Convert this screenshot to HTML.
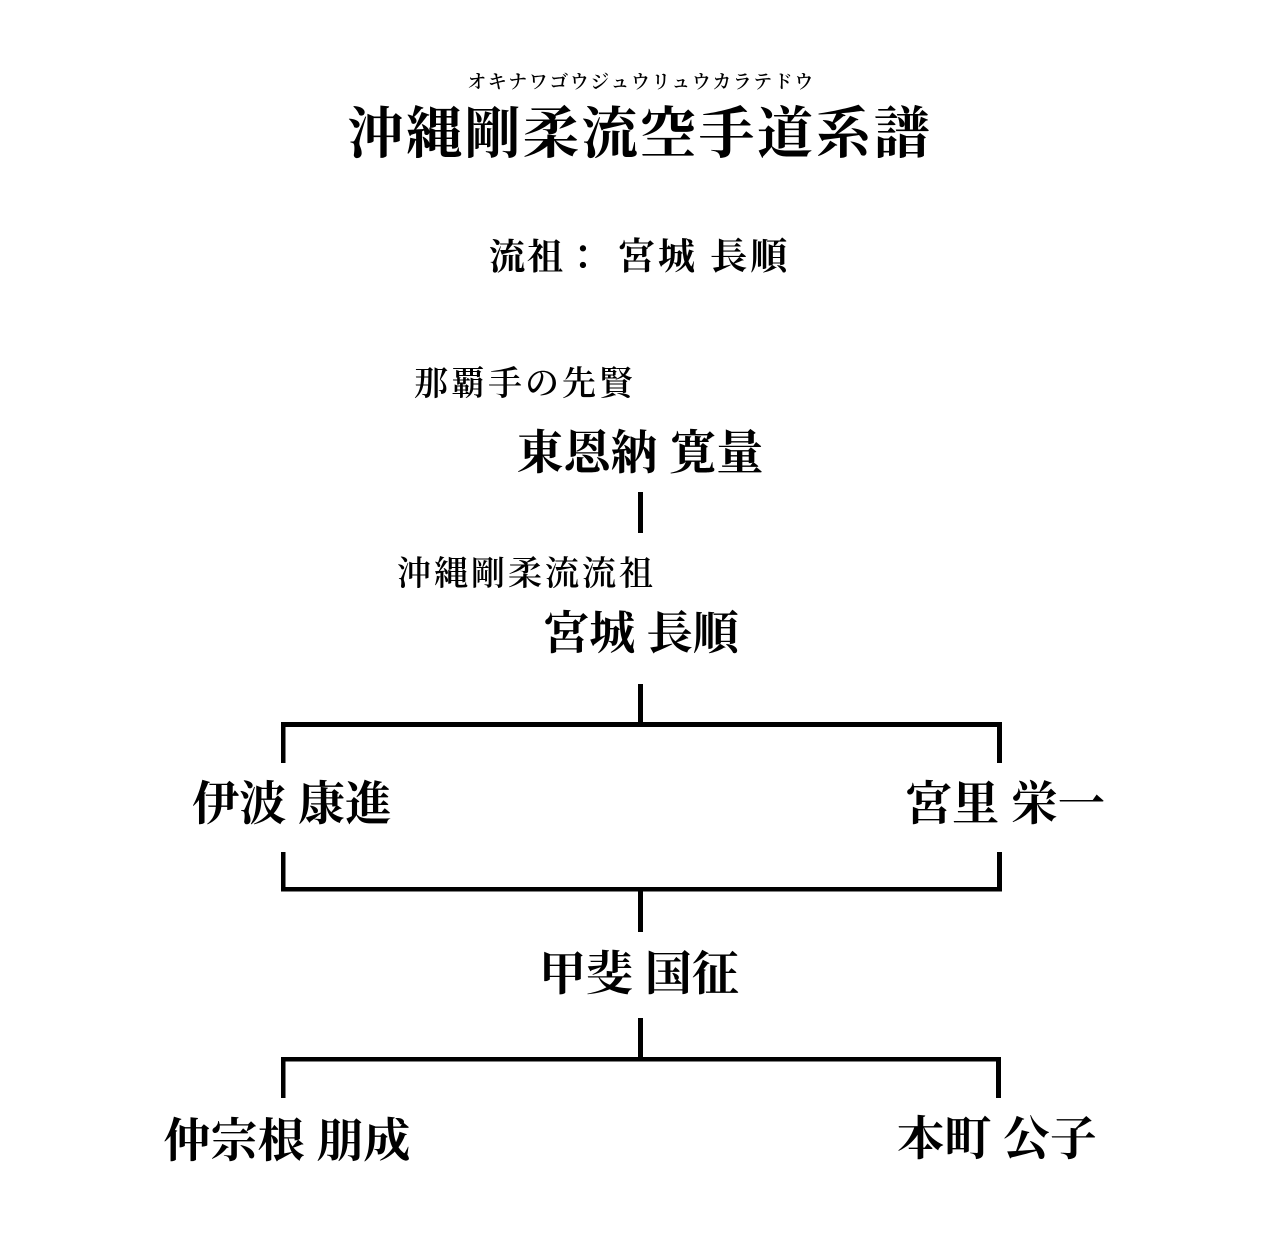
<!DOCTYPE html>
<html lang="ja">
<head>
<meta charset="utf-8">
<style>
  html,body{margin:0;padding:0;background:#fff;}
  body{width:1280px;height:1250px;overflow:hidden;}
  svg{display:block;}
  text{font-family:"Liberation Serif","Noto Serif CJK SC","Noto Serif CJK JP",serif;fill:#000;}
</style>
</head>
<body>
<svg width="1280" height="1250" viewBox="0 0 1280 1250" xmlns="http://www.w3.org/2000/svg">
  <rect x="0" y="0" width="1280" height="1250" fill="#fff"/>

  <!-- Header -->
  <text x="641" y="88" font-size="19" letter-spacing="1.5" text-anchor="middle" font-weight="600">オキナワゴウジュウリュウカラテドウ</text>
  <text x="640" y="153" font-size="56" letter-spacing="2.5" text-anchor="middle" font-weight="700">沖縄剛柔流空手道系譜</text>
  <text x="489" y="269" font-size="36" letter-spacing="2" font-weight="700">流祖：</text>
  <text x="618" y="269" font-size="37" letter-spacing="3" font-weight="700">宮城 長順</text>

  <!-- 東恩納 寛量 -->
  <text x="414" y="395" font-size="34" letter-spacing="3" font-weight="600">那覇手の先賢</text>
  <text x="640" y="469" font-size="47" text-anchor="middle" font-weight="700">東恩納 寛量</text>

  <rect x="638" y="492" width="5" height="41" fill="#000"/>

  <!-- 宮城 長順 -->
  <text x="397" y="585" font-size="34" letter-spacing="3" font-weight="600">沖縄剛柔流流祖</text>
  <text x="641" y="649" font-size="46" text-anchor="middle" font-weight="700">宮城 長順</text>

  <rect x="638" y="684" width="5" height="40" fill="#000"/>

  <!-- bracket 1 -->
  <rect x="281" y="722" width="721" height="5" fill="#000"/>
  <rect x="281" y="722" width="4.5" height="41" fill="#000"/>
  <rect x="997" y="722" width="5" height="41" fill="#000"/>

  <text x="292" y="820" font-size="47" text-anchor="middle" font-weight="700">伊波 康進</text>
  <text x="1005" y="820" font-size="47" text-anchor="middle" font-weight="700">宮里 栄一</text>

  <rect x="281" y="852" width="4.5" height="39" fill="#000"/>
  <rect x="997" y="852" width="5" height="39" fill="#000"/>
  <rect x="281" y="887" width="721" height="4.5" fill="#000"/>

  <rect x="638" y="888" width="5" height="44" fill="#000"/>

  <!-- 甲斐 国征 -->
  <text x="639" y="990" font-size="47" text-anchor="middle" font-weight="700">甲斐 国征</text>

  <rect x="638" y="1018" width="5" height="43" fill="#000"/>

  <!-- bracket 2 -->
  <rect x="281" y="1057" width="720" height="4.5" fill="#000"/>
  <rect x="281" y="1057" width="4.5" height="41" fill="#000"/>
  <rect x="996" y="1057" width="5" height="41" fill="#000"/>

  <text x="287" y="1157" font-size="47" text-anchor="middle" font-weight="700">仲宗根 朋成</text>
  <text x="997" y="1155" font-size="47" text-anchor="middle" font-weight="700">本町 公子</text>
</svg>
</body>
</html>
